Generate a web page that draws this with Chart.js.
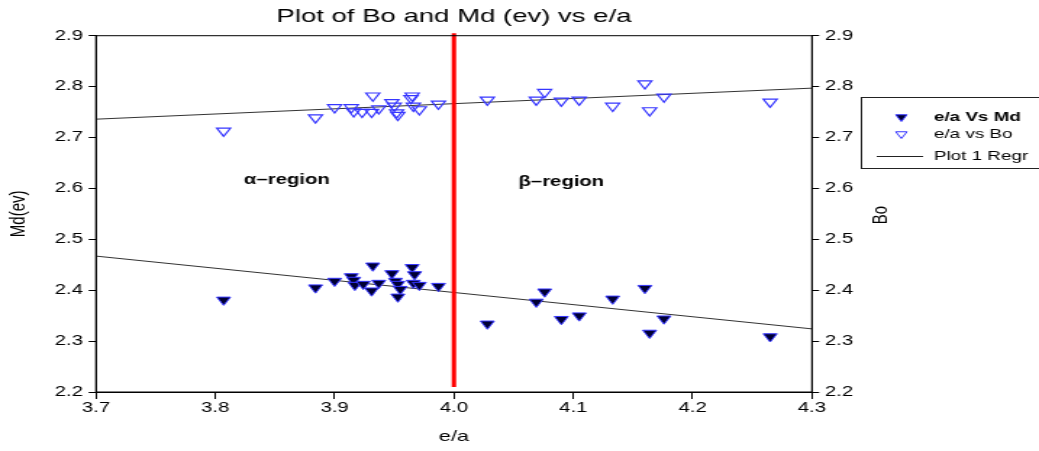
<!DOCTYPE html>
<html>
<head>
<meta charset="utf-8">
<script src="https://cdn.jsdelivr.net/npm/chart.js@4/dist/chart.umd.min.js"></script>
<style>
  html, body { margin: 0; padding: 0; background: #fff; overflow: hidden; }
  #wrap { width: 1039px; height: 451px; overflow: hidden; }
  #c { display: block; transform: scaleX(1.4491); transform-origin: 0 0; }
</style>
</head>
<body>
<div id="wrap"><canvas id="c" width="717" height="451"></canvas></div>
<script>
// ---- data ----
const mdX = [3.807, 3.884, 3.900, 3.914, 3.916, 3.917, 3.924, 3.932, 3.931, 3.937, 3.948, 3.951, 3.953, 3.955, 3.953, 3.965, 3.967, 3.966, 3.971, 3.987, 4.028, 4.076, 4.069, 4.090, 4.105, 4.133, 4.160, 4.164, 4.176, 4.265];
const mdY = [2.381, 2.405, 2.418, 2.427, 2.420, 2.410, 2.412, 2.448, 2.399, 2.414, 2.433, 2.418, 2.412, 2.402, 2.387, 2.445, 2.431, 2.414, 2.410, 2.408, 2.334, 2.397, 2.377, 2.343, 2.350, 2.383, 2.404, 2.316, 2.344, 2.309];
const boX = [3.807, 3.884, 3.900, 3.914, 3.916, 3.923, 3.932, 3.931, 3.937, 3.948, 3.950, 3.952, 3.953, 3.965, 3.964, 3.966, 3.971, 3.987, 4.028, 4.069, 4.076, 4.090, 4.105, 4.133, 4.160, 4.164, 4.176, 4.265];
const boY = [2.713, 2.739, 2.759, 2.759, 2.751, 2.750, 2.782, 2.750, 2.757, 2.769, 2.762, 2.749, 2.744, 2.782, 2.777, 2.762, 2.755, 2.766, 2.774, 2.774, 2.789, 2.772, 2.774, 2.762, 2.806, 2.753, 2.780, 2.770];
const regX = [3.7, 4.3];
const mdRegY = [2.467, 2.324];
const boRegY = [2.736, 2.797];
const divX = [4.0, 4.0];
const divY = [2.21, 2.905];
const xTicks = [3.7, 3.8, 3.9, 4.0, 4.1, 4.2, 4.3];
const yTicks = [2.2, 2.3, 2.4, 2.5, 2.6, 2.7, 2.8, 2.9];
const seriesNames = ['e/a Vs Md', 'e/a vs Bo', 'Plot 1 Regr'];
const regionLabels = ['α–region', 'β–region'];
const regionX = [3.86, 4.09];
const regionY = [2.617, 2.613];
const titleText = 'Plot of Bo and Md (ev) vs e/a';

const FONT = '"Liberation Sans", Arial, sans-serif';
const pts = (xs, ys) => xs.map((x, i) => ({x: x, y: ys[i]}));
const MD_FILL = '#000033', EDGE = '#3636ff';

const extras = {
  id: 'extras',
  afterDraw(chart) {
    const ctx = chart.ctx, a = chart.chartArea;
    const xs = chart.scales.x, ys = chart.scales.y;
    ctx.save();
    // frame
    ctx.strokeStyle = '#000'; ctx.lineWidth = 1;
    ctx.strokeRect(a.left, a.top, a.right - a.left, a.bottom - a.top);
    // title
    ctx.fillStyle = '#000';
    ctx.font = '19px ' + FONT;
    ctx.textAlign = 'center'; ctx.textBaseline = 'alphabetic';
    ctx.fillText(titleText, (a.left + a.right) / 2, 22);
    // region labels
    ctx.font = 'bold 14px ' + FONT;
    ctx.textBaseline = 'middle';
    regionLabels.forEach((t, i) => ctx.fillText(t, xs.getPixelForValue(regionX[i]), ys.getPixelForValue(regionY[i])));
    // right axis title
    ctx.save();
    ctx.translate(607.5, 215);
    ctx.rotate(-Math.PI / 2);
    ctx.font = '15px ' + FONT;
    ctx.fillText('Bo', 0, 0);
    ctx.restore();
    // legend
    ctx.strokeStyle = '#222'; ctx.lineWidth = 1;
    ctx.strokeRect(594.5, 97.5, 140, 71);
    const tri = (cx, cy, r, fill) => {
      ctx.beginPath();
      ctx.moveTo(cx - r * 0.866, cy - r * 0.5);
      ctx.lineTo(cx + r * 0.866, cy - r * 0.5);
      ctx.lineTo(cx, cy + r);
      ctx.closePath();
      if (fill) { ctx.fillStyle = fill; ctx.fill(); }
      ctx.strokeStyle = EDGE; ctx.stroke();
    };
    tri(622, 117, 4.5, MD_FILL);
    tri(622, 134, 4.5, null);
    ctx.strokeStyle = '#222';
    ctx.beginPath(); ctx.moveTo(605, 156.5); ctx.lineTo(637, 156.5); ctx.stroke();
    ctx.fillStyle = '#000'; ctx.textAlign = 'left'; ctx.textBaseline = 'middle';
    ctx.font = 'bold 13px ' + FONT;
    ctx.fillText(seriesNames[0], 644.5, 117);
    ctx.font = '13px ' + FONT;
    ctx.fillText(seriesNames[1], 644.5, 134);
    ctx.fillText(seriesNames[2], 644.5, 156);
    ctx.restore();
  }
};

const tickFmt = v => Number(v).toFixed(1);

new Chart(document.getElementById('c'), {
  type: 'scatter',
  data: {
    datasets: [
      { label: 'divider', data: pts(divX, divY), showLine: true, borderColor: '#ff0000', borderWidth: 3, pointRadius: 0, clip: false, order: 0 },
      { label: seriesNames[0], data: pts(mdX, mdY), pointStyle: 'triangle', rotation: 180, pointRadius: 5.5, backgroundColor: MD_FILL, borderColor: EDGE, borderWidth: 1, order: 1 },
      { label: seriesNames[1], data: pts(boX, boY), pointStyle: 'triangle', rotation: 180, pointRadius: 5.5, backgroundColor: 'rgba(255,255,255,0)', borderColor: EDGE, borderWidth: 1.2, order: 1 },
      { label: seriesNames[2], data: pts(regX, mdRegY), showLine: true, borderColor: '#333', borderWidth: 1, pointRadius: 0, order: 2 },
      { label: 'Bo regr', data: pts(regX, boRegY), showLine: true, borderColor: '#333', borderWidth: 1, pointRadius: 0, order: 2 }
    ]
  },
  options: {
    responsive: false,
    animation: false,
    devicePixelRatio: 1,
    events: [],
    layout: { padding: { left: 0, top: 35.7, right: 116.7, bottom: 0 } },
    plugins: { legend: { display: false }, tooltip: { enabled: false }, title: { display: false } },
    scales: {
      x: {
        type: 'linear', min: 3.7, max: 4.3,
        afterBuildTicks: s => { s.ticks = xTicks.map(v => ({value: v})); },
        afterFit: s => { s.height = 59; },
        ticks: { callback: tickFmt, color: '#000', font: { family: FONT, size: 14 }, padding: 1, maxRotation: 0 },
        grid: { display: true, drawOnChartArea: false, drawTicks: true, tickLength: 7, color: '#000' },
        border: { display: true, color: '#000', width: 1 },
        title: { display: true, text: 'e/a', color: '#000', font: { family: FONT, size: 15 }, padding: { top: 0, bottom: 5 } }
      },
      y: {
        type: 'linear', position: 'left', min: 2.2, max: 2.9,
        afterBuildTicks: s => { s.ticks = yTicks.map(v => ({value: v})); },
        afterFit: s => { s.width = 66.2; },
        ticks: { callback: tickFmt, color: '#000', font: { family: FONT, size: 14 }, padding: 4 },
        grid: { display: true, drawOnChartArea: false, drawTicks: true, tickLength: 5, color: '#000' },
        border: { display: true, color: '#000', width: 1 },
        title: { display: true, text: 'Md(ev)', color: '#000', font: { family: FONT, size: 15 }, padding: { top: 4, bottom: 0 } }
      },
      y2: {
        type: 'linear', position: 'right', min: 2.2, max: 2.9,
        afterBuildTicks: s => { s.ticks = yTicks.map(v => ({value: v})); },
        afterFit: s => { s.width = 40; },
        ticks: { callback: tickFmt, color: '#000', font: { family: FONT, size: 14 }, padding: 4 },
        grid: { display: true, drawOnChartArea: false, drawTicks: true, tickLength: 5, color: '#000' },
        border: { display: true, color: '#000', width: 1 }
      }
    }
  },
  plugins: [extras]
});
</script>
</body>
</html>
